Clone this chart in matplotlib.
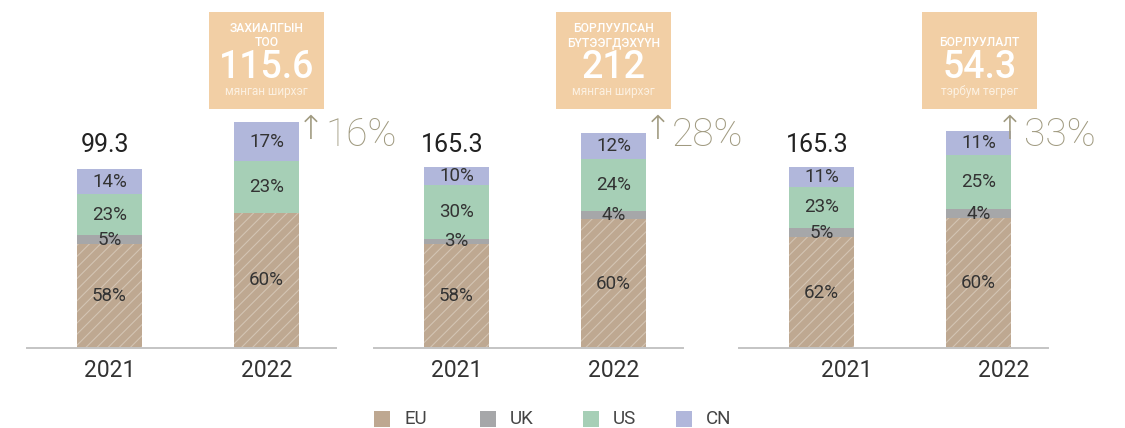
import matplotlib
matplotlib.use("Agg")
import matplotlib.pyplot as plt
from matplotlib.patches import Rectangle
import numpy as np

plt.rcParams['font.family'] = ['Roboto', 'DejaVu Sans']
plt.rcParams['hatch.linewidth'] = 0.8

# ---------------- data ----------------
years = ["2021", "2022"]
regions = ["EU", "UK", "US", "CN"]
colors = ["#bea891", "#a6a7a9", "#a6cfb6", "#b1b7db"]

# percentage shares per panel: [2021, 2022] for each region
orders_share = {"EU": [58, 60], "UK": [5, 0], "US": [23, 23], "CN": [14, 17]}
products_share = {"EU": [58, 60], "UK": [3, 4], "US": [30, 24], "CN": [10, 12]}
sales_share = {"EU": [62, 60], "UK": [5, 4], "US": [23, 25], "CN": [11, 11]}

# visual relative bar heights as drawn in the picture
orders_height = [100, 126]
products_height = [100, 120]
sales_height = [100, 121]

totals_2021 = ["99.3", "165.3", "165.3"]
growth = ["16%", "28%", "33%"]
box_titles = [["ЗАХИАЛГЫН", "ТОО"], ["БОРЛУУЛСАН", "БҮТЭЭГДЭХҮҮН"], ["БОРЛУУЛАЛТ"]]
box_values = ["115.6", "212", "54.3"]
box_units = ["мянган ширхэг", "мянган ширхэг", "тэрбум төгрөг"]

panels = [
    (orders_share, orders_height),
    (products_share, products_height),
    (sales_share, sales_height),
]

# ---------------- layout ----------------
W, H = 1125, 428
fig = plt.figure(figsize=(W / 100, H / 100), dpi=100)

def fx(px):
    return px / W

def fy(py):
    return 1 - py / H

axis_left = [27, 374, 739]
axis_width = 309
baseline = 348
px_per_unit = 179 / 100.0
ytop = baseline / px_per_unit
xlim = (-0.525, 1.443)
bar_w = 0.414
tick_shift = [0.0, 0.0, 0.16]
growth_x = [325, 672, 1024]
box_cx = [266.5, 613.5, 979.5]

for i, (shares, heights) in enumerate(panels):
    ax = fig.add_axes([fx(axis_left[i]), fy(baseline), fx(axis_width), baseline / H])
    ax.set_xlim(*xlim)
    ax.set_ylim(0, ytop)
    x = np.arange(len(years))
    bottoms = np.zeros(len(years))
    for r, c in zip(regions, colors):
        seg = np.array(shares[r]) / 100.0 * np.array(heights)
        if r == "EU":
            ax.bar(x, seg, bar_w, bottom=bottoms, color=c, edgecolor="#d3c4b3",
                   linewidth=0, hatch="///")
        else:
            ax.bar(x, seg, bar_w, bottom=bottoms, color=c, linewidth=0)
        for xi in range(len(years)):
            if shares[r][xi] > 0:
                ax.text(x[xi], bottoms[xi] + seg[xi] / 2, f"{shares[r][xi]}%",
                        ha="center", va="center", fontsize=13.5, color="#333333")
        bottoms = bottoms + seg

    # total label for 2021
    ax.annotate(totals_2021[i], (x[0], heights[0]), xytext=(-3, 17),
                textcoords="offset points", ha="center", va="center",
                fontsize=18, color="#222222")

    for s in ["top", "right", "left"]:
        ax.spines[s].set_visible(False)
    ax.spines["bottom"].set_color("#c4c4c4")
    ax.spines["bottom"].set_linewidth(1.4)
    ax.set_yticks([])
    ax.set_xticks(x + tick_shift[i])
    ax.set_xticklabels(years, fontsize=16.5, color="#333333")
    ax.tick_params(axis="x", length=0, pad=8)

    # growth text: arrow glyph right before the digits
    gx = growth_x[i]
    fig.text(fx(gx), fy(135), growth[i], ha="left", va="center",
             fontsize=28, color="#a09a80", fontweight="light")
    fig.text(fx(gx - 0.5), fy(130), "↑", ha="right", va="center",
             fontsize=24, color="#a09a80", fontweight="light")

    # box
    bx0 = box_cx[i] - 57.5
    fig.patches.append(Rectangle((fx(bx0), fy(109)), fx(115), (109 - 12) / H,
                                 transform=fig.transFigure, facecolor="#f2cfa5",
                                 edgecolor="none"))
    titles = box_titles[i]
    ys = [29, 43] if len(titles) == 2 else [43]
    for t, ty in zip(titles, ys):
        fig.text(fx(box_cx[i]), fy(ty), t, ha="center", va="center",
                 fontsize=8.7, color="white", fontweight="medium")
    fig.text(fx(box_cx[i]), fy(68), box_values[i], ha="center", va="center",
             fontsize=27, color="white", fontweight="medium")
    fig.text(fx(box_cx[i]), fy(92), box_units[i], ha="center", va="center",
             fontsize=8.5, color="#fcf1e2")

# legend drawn at figure level
leg_x = [374, 480, 583, 676]
for lx, r, c in zip(leg_x, regions, colors):
    fig.patches.append(Rectangle((fx(lx), fy(427)), fx(16), 16 / H,
                                 transform=fig.transFigure, facecolor=c,
                                 edgecolor="none"))
    fig.text(fx(lx + 30), fy(419), r, ha="left", va="center",
             fontsize=13.5, color="#444444")

fig.savefig("out.png", dpi=100)
